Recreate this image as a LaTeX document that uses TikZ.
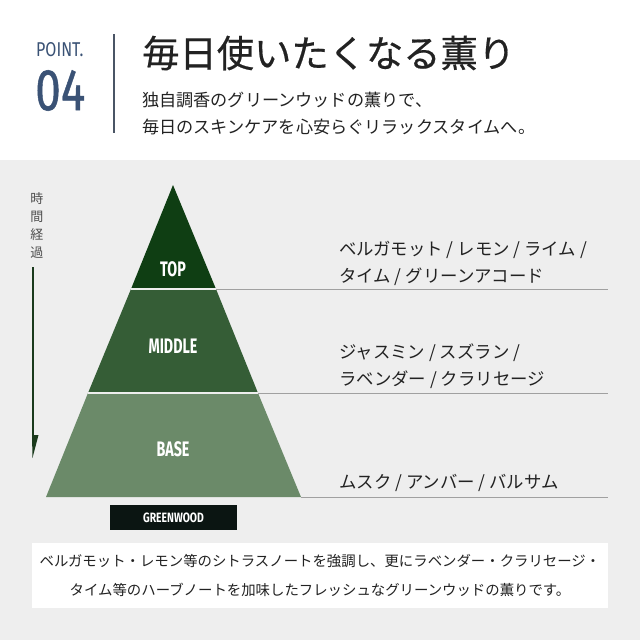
\documentclass[tikz,border=0pt]{standalone}
\usepackage{fontspec}
\setmainfont{Noto Sans CJK JP}
\newfontfamily\jp{Noto Sans CJK JP}
\newfontfamily\jpm{Noto Sans CJK JP}[FakeBold=0.5]
\newfontfamily\lat{Fira Sans}
\newfontfamily\latm{Fira Sans}[FakeBold=0.9]
\definecolor{bggray}{HTML}{EEEEEE}
\definecolor{navy}{HTML}{3A5275}
\definecolor{vline}{HTML}{4A5565}
\definecolor{topg}{HTML}{0F3E13}
\definecolor{midg}{HTML}{355D36}
\definecolor{baseg}{HTML}{6B8A69}
\definecolor{boxk}{HTML}{0B1512}
\definecolor{lineg}{HTML}{A0A0A0}
\definecolor{arrowg}{HTML}{1A3A1C}
\definecolor{txt}{HTML}{222222}
\tikzset{
  tierlabel/.style={text=white, inner sep=0pt, font=\lat\bfseries\fontsize{21}{21}\selectfont},
  notetext/.style={text=txt, anchor=west, align=left, inner sep=0pt, font=\jp\fontsize{17.4}{27}\selectfont},
  sepline/.style={draw=lineg, line width=0.9pt},
  gapline/.style={draw=bggray, line width=1.2pt},
}
\begin{document}
\begin{tikzpicture}[x=1pt,y=-1pt]
\useasboundingbox (0,0) rectangle (640,640);
\fill[white] (0,0) rectangle (640,160);
\fill[bggray] (0,160) rectangle (640,640);

% header
\node[inner sep=0pt, anchor=west, text=navy, font=\lat\fontsize{20}{20}\selectfont] (point) at (36,50) {\scalebox{0.8}[1]{POINT.}};
\node[inner sep=0pt, anchor=west, text=navy, font=\latm\fontsize{59}{59}\selectfont] (num) at (35,90.5) {\scalebox{0.78}[1]{04}};
\coordinate (vtop) at (114,34);
\coordinate (vbot) at (114,133);
\draw[vline, line width=1.8pt] (vtop) -- (vbot);
\node[inner sep=0pt, anchor=west, text=txt, font=\jpm\fontsize{37.3}{37.3}\selectfont] (title) at (142,53) {毎日使いたくなる薫り};
\node[inner sep=0pt, anchor=west, align=left, text=txt, font=\jp\fontsize{17.15}{27}\selectfont] (sub) at (142,113.5) {独自調香のグリーンウッドの薫りで、\\毎日のスキンケアを心安らぐリラックスタイムへ。};

% pyramid
\coordinate (apex) at (173,185);
\coordinate (t1l) at (131,289);
\coordinate (t1r) at (216,289);
\coordinate (t2l) at (88,393);
\coordinate (t2r) at (258,393);
\coordinate (bl) at (46,497);
\coordinate (br) at (301,497);
\fill[topg] (apex) -- (t1r) -- (t1l) -- cycle;
\fill[midg] (t1l) -- (t1r) -- (t2r) -- (t2l) -- cycle;
\fill[baseg] (t2l) -- (t2r) -- (br) -- (bl) -- cycle;
\draw[gapline] (t1l) -- (t1r);
\draw[gapline] (t2l) -- (t2r);
\node[tierlabel] (top) at (173,269) {\scalebox{0.68}[1]{TOP}};
\node[tierlabel] (mid) at (173,346) {\scalebox{0.68}[1]{MIDDLE}};
\node[tierlabel] (base) at (173,449) {\scalebox{0.68}[1]{BASE}};

% separator lines
\coordinate (e1) at (608,289);
\coordinate (e2) at (608,393);
\coordinate (e3) at (608,497);
\draw[sepline] (t1r) -- (e1);
\draw[sepline] (t2r) -- (e2);
\draw[sepline] (br) -- (e3);

% notes
\node[notetext] (n1) at (339,263.5) {ベルガモット / レモン / ライム /\\タイム / グリーンアコード};
\node[notetext] (n2) at (339,366) {ジャスミン / スズラン /\\ラベンダー / クラリセージ};
\node[notetext] (n3) at (339,483) {ムスク / アンバー / バルサム};

% time arrow
\node[inner sep=0pt, align=center, text=txt!80, font=\jp\fontsize{13}{18}\selectfont] (time) at (37,225) {時\\間\\経\\過};
\coordinate (as) at (33,267);
\coordinate (ae) at (33,436);
\draw[arrowg, line width=2pt] (as) -- (ae);
\fill[arrowg] (32,435) -- (38.5,435) -- (32.5,458) -- cycle;

% greenwood box
\node[fill=boxk, text=white, minimum width=127pt, minimum height=25pt, inner sep=0pt, font=\lat\bfseries\fontsize{13.5}{13.5}\selectfont] (gw) at (173.5,517.5) {\scalebox{0.77}[1]{GREENWOOD}};

% bottom box
\node[fill=white, minimum width=576pt, minimum height=65pt, inner sep=0pt, align=center, text=txt, font=\jp\fontsize{14.4}{29}\selectfont] (desc) at (320,575.5) {ベルガモット・レモン等のシトラスノートを強調し、更にラベンダー・クラリセージ・\\タイム等のハーブノートを加味したフレッシュなグリーンウッドの薫りです。};
\end{tikzpicture}
\end{document}
